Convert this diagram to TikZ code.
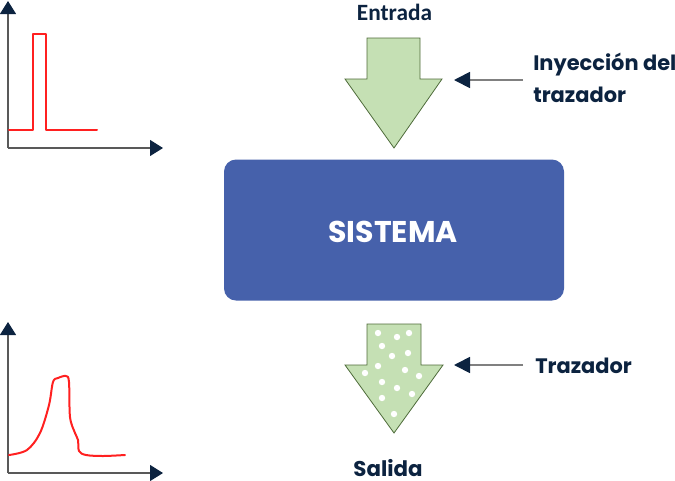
\documentclass[tikz,border=0pt]{standalone}
\usepackage{fontspec}
\usetikzlibrary{arrows.meta}
\newfontfamily\popfont{Poppins}
\newfontfamily\carlfont{Carlito}
\definecolor{navy}{HTML}{0C2340}
\definecolor{boxblue}{HTML}{4661AB}
\definecolor{lgreen}{HTML}{C5E0B4}
\definecolor{dgreen}{HTML}{4E6B3A}
\definecolor{axisgray}{HTML}{595959}
\definecolor{linegray}{HTML}{808080}
\definecolor{pulsered}{HTML}{FF2020}
\tikzset{
  axis/.style={draw=axisgray, line width=0.9pt, -{Triangle[length=9.75pt,width=12pt,color=navy]}},
  signal/.style={draw=pulsered, line width=1.5pt, line join=round, line cap=round},
  bigarrow/.style={draw=dgreen, line width=0.6pt, fill=lgreen, line join=miter},
  pointer/.style={draw=linegray, line width=1.3pt, -{Triangle[length=12pt,width=12pt,color=navy]}},
  lbl/.style={text=navy, inner sep=0pt, font=\popfont\bfseries\fontsize{15.7pt}{24pt}\selectfont},
  dot/.style={fill=white, draw=none}
}
\begin{document}
\begin{tikzpicture}[x=0.75pt,y=-0.75pt]
\useasboundingbox (0,0) rectangle (675,480);
% top graph
\coordinate (o1) at (8,148);
\coordinate (y1) at (8,1);
\coordinate (x1) at (163,148);
\draw[axis] (o1) -- (y1);
\draw[axis] (o1) -- (x1);
\draw[signal] (9,130) -- (33,130) -- (33,34) -- (46,34) -- (46,130) -- (97,130);
% bottom graph
\coordinate (o2) at (8,473);
\coordinate (y2) at (8,322);
\coordinate (x2) at (163,473);
\draw[axis] (o2) -- (y2);
\draw[axis] (o2) -- (x2);
\draw[signal] plot[smooth, tension=0.55] coordinates {(9,455) (27,450) (40,433) (49,405) (53,382) (58,378) (66,376) (69,382) (70,417) (75,433) (78,440) (79,451) (86,455) (103,456) (125,455)};
% input arrow
\draw[bigarrow] (367,38) -- (420,38) -- (420,79) -- (442,79) -- (394,148) -- (345,79) -- (367,79) -- cycle;
\node[text=navy, inner sep=0pt, font=\carlfont\bfseries\fontsize{17.5pt}{20pt}\selectfont, anchor=base] (entrada) at (394.5,20.5) {Entrada};
% system
\node[draw=none, fill=boxblue, rounded corners=9pt, minimum width=340*0.75pt, minimum height=141*0.75pt, inner sep=0pt] (sistema) at (394,230) {};
\node[text=white, inner sep=0pt, font=\popfont\bfseries\fontsize{22.5pt}{26pt}\selectfont, anchor=base] (sistxt) at (393,242.5) {SISTEMA};
% output arrow
\draw[bigarrow] (367,324) -- (421,324) -- (421,365) -- (443,365) -- (394,433) -- (345,365) -- (367,365) -- cycle;
\foreach \px/\py in {378/333,397/337,409/333,382/346,392/356,408/353,378/366,365/373,405/370,419/376,382/382,397/388,412/394,382/398,394/414}
  \fill[dot] (\px,\py) circle (3.2);
\node[lbl, font=\popfont\bfseries\fontsize{16pt}{20pt}\selectfont, text depth=0pt, anchor=base] (salida) at (388,476) {Salida};
% labels
\node[lbl, anchor=base west] (iny1) at (533,70) {Inyección del};
\node[lbl, anchor=base west] (iny2) at (533,102) {trazador};
\coordinate (inytail) at (523,80);
\coordinate (inytip) at (454,80);
\draw[pointer] (inytail) -- (inytip);
\node[lbl, anchor=base west] (traz) at (535,373) {Trazador};
\coordinate (traztail) at (523,365);
\coordinate (traztip) at (454,365);
\draw[pointer] (traztail) -- (traztip);
\end{tikzpicture}
\end{document}
